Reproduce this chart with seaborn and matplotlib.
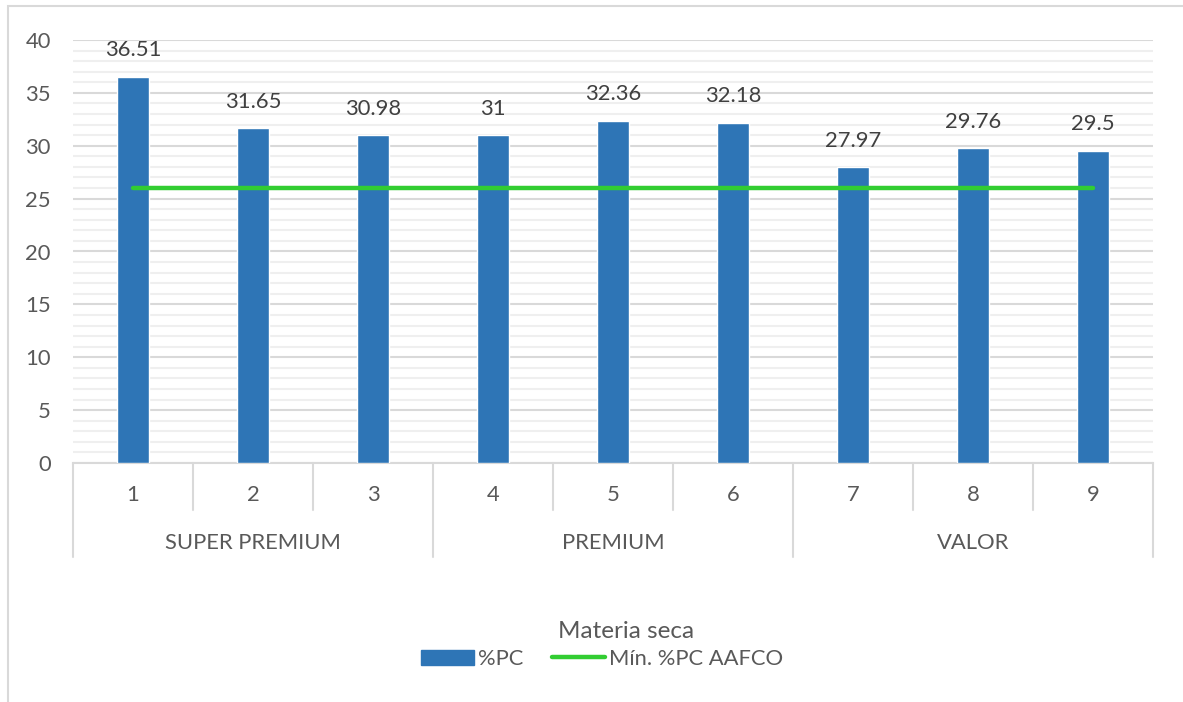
import matplotlib
matplotlib.use("Agg")
import matplotlib.pyplot as plt
import matplotlib.patches as mpatches
import matplotlib.lines as mlines
from matplotlib.transforms import blended_transform_factory
import seaborn as sns
import pandas as pd

# --- data ---
samples = ["1", "2", "3", "4", "5", "6", "7", "8", "9"]
groups = ["SUPER PREMIUM", "PREMIUM", "VALOR"]
group_sizes = [3, 3, 3]
pc_values = [36.51, 31.65, 30.98, 31, 32.36, 32.18, 27.97, 29.76, 29.5]
aafco_min = [26, 26, 26, 26, 26, 26, 26, 26, 26]

BAR_COLOR = "#2E75B6"
LINE_COLOR = "#32CD32"
TEXT_COLOR = "#595959"
LABEL_COLOR = "#404040"
GRID_MAJOR = "#d9d9d9"
GRID_MINOR = "#efefef"
FS = 15.8

sns.set_theme(style="white")
plt.rcParams["font.family"] = ["Lato", "DejaVu Sans"]

W, H = 1183, 702
fig = plt.figure(figsize=(W / 100, H / 100), dpi=100)
left, right, bottom, top = 73, 1153, 463, 40
ax = fig.add_axes([left / W, 1 - bottom / H, (right - left) / W, (bottom - top) / H])

df = pd.DataFrame({"muestra": samples, "pc": pc_values})
sns.barplot(data=df, x="muestra", y="pc", color=BAR_COLOR, width=0.27,
            saturation=1, ax=ax, zorder=3)

xpos = list(range(len(samples)))
sns.lineplot(x=xpos, y=aafco_min, color=LINE_COLOR, lw=3.2, ax=ax, zorder=4,
             solid_capstyle="round")

# value labels
labels = [f"{v:g}" for v in pc_values]
ax.bar_label(ax.containers[0], labels=labels, padding=12, fontsize=FS,
             color=LABEL_COLOR)

ax.set_xlim(-0.5, len(samples) - 0.5)
ax.set_ylim(0, 40)
ax.set_yticks(range(0, 41, 5))
ax.set_yticks(range(0, 41, 1), minor=True)
ax.grid(axis="y", which="major", color=GRID_MAJOR, lw=1.5, zorder=0)
ax.grid(axis="y", which="minor", color=GRID_MINOR, lw=1.5, zorder=0)
ax.set_axisbelow(True)
for s in ["top", "right", "left"]:
    ax.spines[s].set_visible(False)
ax.spines["bottom"].set_color(GRID_MAJOR)
ax.spines["bottom"].set_linewidth(1.5)
ax.tick_params(axis="y", which="both", length=0, labelsize=FS,
               labelcolor=TEXT_COLOR, pad=16)
ax.set_xticks([])
ax.set_xlabel("")
ax.set_ylabel("")

# two-level category axis
axis_h = bottom - top
tr = blended_transform_factory(ax.transData, ax.transAxes)
lvl1 = -47 / axis_h
lvl2 = -94 / axis_h
group_edges = [-0.5]
for n in group_sizes:
    group_edges.append(group_edges[-1] + n)
for i in range(len(samples) + 1):
    xb = i - 0.5
    yb = lvl2 if xb in group_edges else lvl1
    ax.plot([xb, xb], [0, yb], transform=tr, color=GRID_MAJOR, lw=1.5,
            clip_on=False)
for i, s in enumerate(samples):
    ax.text(i, -32 / axis_h, s, transform=tr, ha="center", va="center",
            fontsize=FS, color=TEXT_COLOR)
for g, a, b in zip(groups, group_edges[:-1], group_edges[1:]):
    ax.text((a + b) / 2, -80 / axis_h, g, transform=tr, ha="center",
            va="center", fontsize=FS, color=TEXT_COLOR)

# legend
fig.text(626 / W, 1 - 631 / H, "Materia seca", ha="center", va="center",
         fontsize=17.5, color=TEXT_COLOR)
handles = [mpatches.Patch(color=BAR_COLOR, label="%PC"),
           mlines.Line2D([], [], color=LINE_COLOR, lw=3.2,
                         solid_capstyle="round", label="Mín. %PC AAFCO")]
leg = fig.legend(handles=handles, loc="center", ncol=2,
                 bbox_to_anchor=(602 / W, 1 - 659 / H), frameon=False,
                 fontsize=FS, handlelength=2.4, handletextpad=0.2,
                 columnspacing=1.3, borderpad=0)
for t in leg.get_texts():
    t.set_color(TEXT_COLOR)

# chart frame
fig.patches.append(mpatches.Rectangle((8 / W, -0.1), 1.2, 1.1 - 6 / H,
                                      transform=fig.transFigure, fill=False,
                                      edgecolor=GRID_MAJOR, lw=1.5))

fig.savefig("out.png", dpi=100, facecolor="white")
